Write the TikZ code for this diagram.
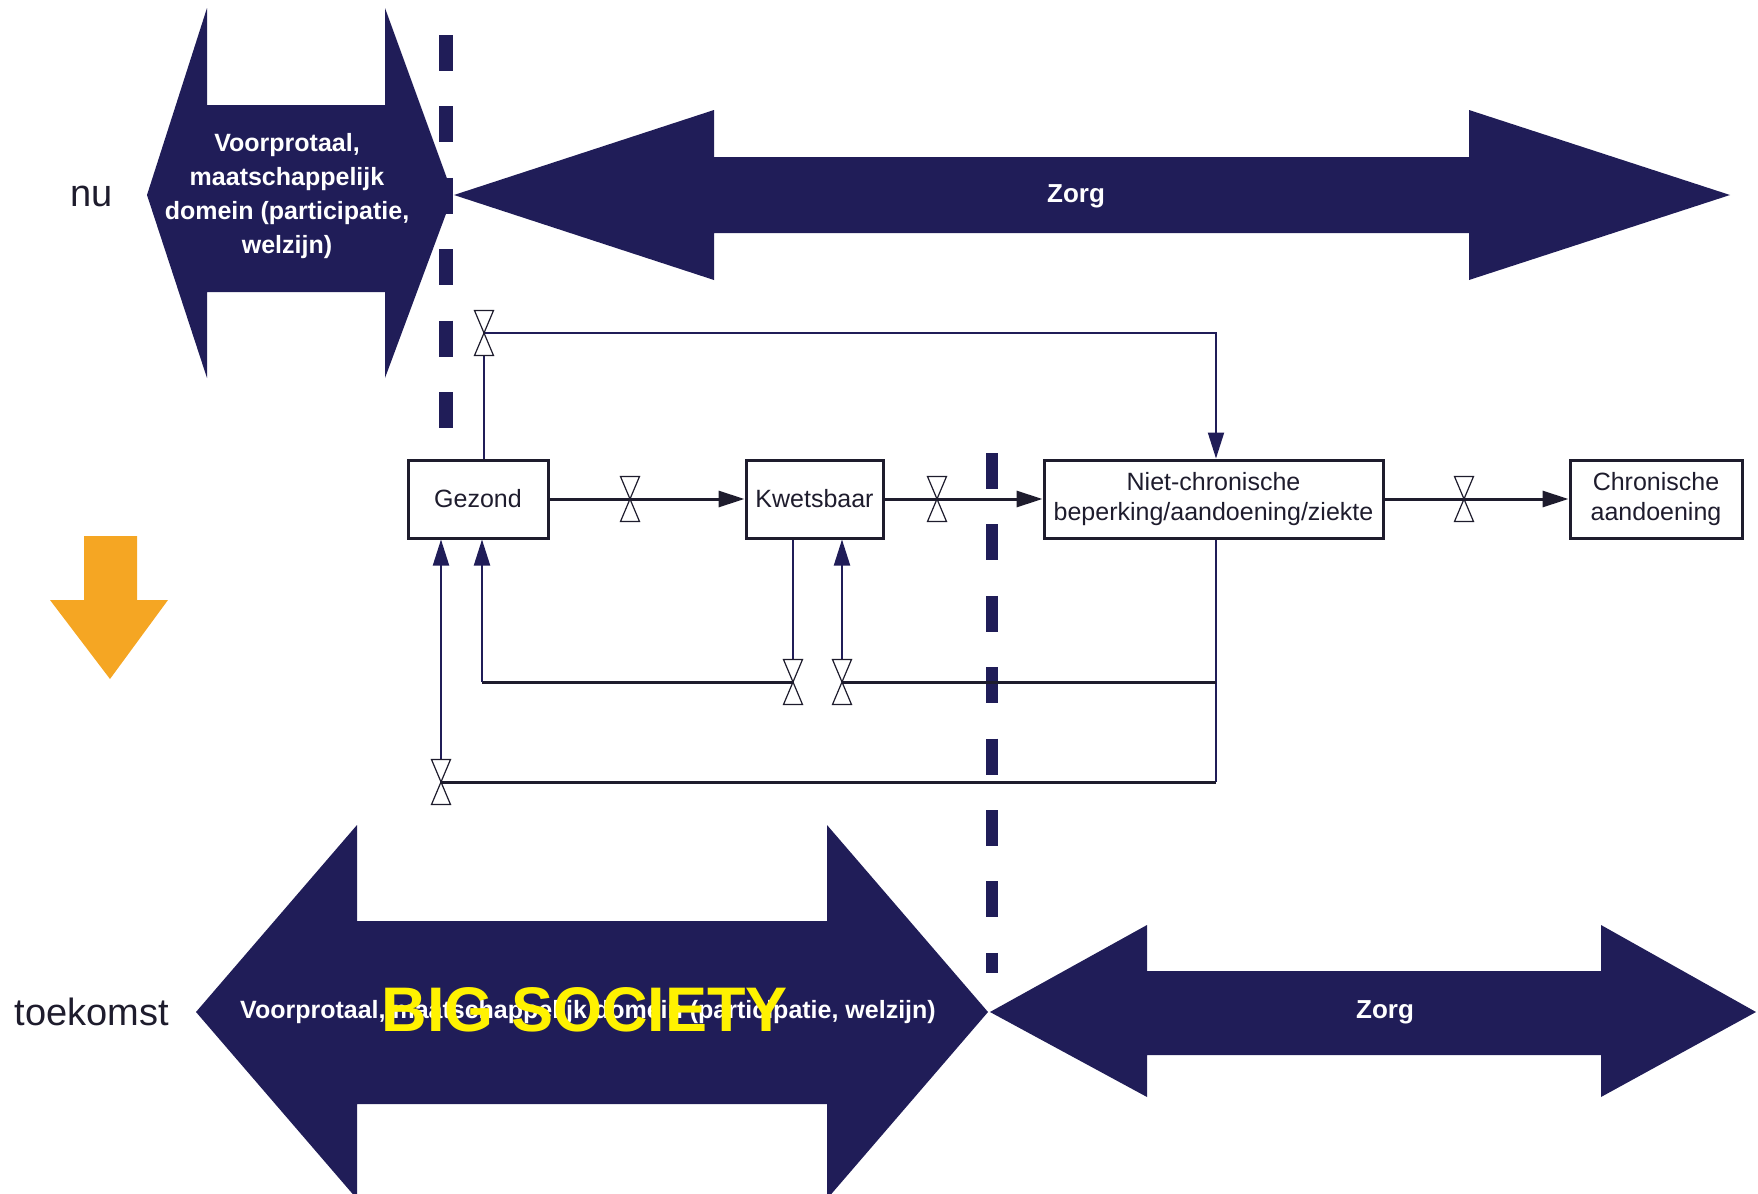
\documentclass[tikz,border=0pt]{standalone}
\usepackage{fontspec}
\setmainfont{Liberation Sans}
\usepackage{tikz}
\usetikzlibrary{arrows.meta,positioning}
\definecolor{navy}{RGB}{32,29,88}
\definecolor{oranje}{RGB}{245,166,35}
\definecolor{inkt}{RGB}{30,28,45}
\tikzset{
  %Standaard pijlpunt
  >={Triangle[length=13pt,width=8pt]},
  %Stijl voor de vakken
  vak/.style={
    rectangle,
    draw=inkt, line width=1.5pt,
    minimum width=#1,
    minimum height=39pt,
    inner sep=0pt,
    align=center,
    text=inkt,
    font=\fontsize{12.5}{15}\selectfont},
  vak/.default=70pt,
  % Stijl voor de lijnen
  hoofd/.style={
    ->,
    draw=inkt,
    line width=1.5pt},
  terug/.style={draw=navy, line width=1pt},
  dwars/.style={draw=inkt, line width=1.5pt},
  grens/.style={draw=navy, dash pattern=on 18pt off 17.7pt},
  blok/.style={fill=navy},
  wit/.style={text=white, align=center,
    font=\bfseries\fontsize{12.5}{17}\selectfont},
  tijd/.style={text=inkt, font=\fontsize{19}{22}\selectfont},
  % Klep (zandloper)
  klep/.pic={
    \draw[inkt, fill=white, line width=0.6pt]
      (-4.75pt,-11.25pt) -- (4.75pt,-11.25pt) -- (-4.75pt,11.25pt) -- (4.75pt,11.25pt) -- cycle;}
}

\begin{document}
\begin{tikzpicture}[x=0.5pt,y=-0.5pt]
  \useasboundingbox (0,0) rectangle (1758,1194);

  % pijlen bovenaan (nu)
  \fill[blok] (147,195) -- (207,8) -- (207,105) -- (385,105) -- (385,8) -- (453,195)
    -- (385,378) -- (385,292) -- (207,292) -- (207,378) -- cycle;
  \fill[blok] (454,195) -- (714,110) -- (714,157) -- (1469,157) -- (1469,110) -- (1730,195)
    -- (1469,280) -- (1469,233) -- (714,233) -- (714,280) -- cycle;
  % pijlen onderaan (toekomst)
  \fill[blok] (196,1012) -- (357,825) -- (357,921) -- (827,921) -- (827,825) -- (988,1012)
    -- (827,1199) -- (827,1104) -- (357,1104) -- (357,1199) -- cycle;
  \fill[blok] (990,1012) -- (1147,925) -- (1147,971) -- (1601,971) -- (1601,925) -- (1756,1012)
    -- (1601,1097) -- (1601,1055) -- (1147,1055) -- (1147,1097) -- cycle;
  % oranje pijl
  \fill[oranje] (84,536) -- (137,536) -- (137,600) -- (168,600) -- (110,679) -- (50,600)
    -- (84,600) -- cycle;

  % scheidingslijnen
  \draw[grens, line width=7pt] (446,35) -- (446,428);
  \draw[grens, line width=6pt] (992,453) -- (992,973);

  \node[tijd] (nu) at (92,196) {nu};
  \node[tijd] (toekomst) at (92,1012) {toekomst};
  \node[wit] (voorportaal) at (287,196) {Voorprotaal,\\maatschappelijk\\domein (participatie,\\welzijn)};
  \node[wit, font=\bfseries\fontsize{13}{15}\selectfont] (zorg) at (1076,196) {Zorg};
  \node[wit] (voorportaalnieuw) at (588,1012) {Voorprotaal, maatschappelijk domein (participatie, welzijn)};
  \node[text=yellow, font=\bfseries\fontsize{31.5}{34}\selectfont] (bigsociety) at (585,1010) {BIG SOCIETY};
  \node[wit, font=\bfseries\fontsize{13}{15}\selectfont] (zorgnieuw) at (1385,1012) {Zorg};

  % vakken
  \node[vak] (gezond) at (478,499) {Gezond};
  \node[vak=68.5pt, right=97.5pt of gezond] (kwetsbaar) {Kwetsbaar};
  \node[vak=169.5pt, right=79pt of kwetsbaar] (niet) {Niet-chronische\\beperking/aandoening/ziekte};
  \node[vak=86pt, right=92pt of niet] (chronisch) {Chronische\\aandoening};

  \coordinate (hoek) at (484,333);
  \coordinate (b1) at (441,782);
  \coordinate (b2) at (1216,782);
  \coordinate (m1) at (482,682);
  \coordinate (m2) at (793,682);
  \coordinate (m3) at (842,682);

  \draw[hoofd] (gezond) -- (kwetsbaar);
  \draw[hoofd] (kwetsbaar) -- (niet);
  \draw[hoofd] (niet) -- (chronisch);
  \draw[terug, ->] (gezond.north -| hoek) -- (hoek) -| (b2 |- niet.north);
  \draw[terug] (b2 |- niet.south) -- (b2);
  \draw[dwars] (b2) -- (b1);
  \draw[terug, ->] (b1) -- (b1 |- gezond.south);
  \draw[dwars] (b2 |- m3) -- (m3);
  \draw[terug, ->] (m3) -- (m3 |- kwetsbaar.south);
  \draw[terug] (m2 |- kwetsbaar.south) -- (m2);
  \draw[dwars] (m2) -- (m1);
  \draw[terug, ->] (m1) -- (m1 |- gezond.south);

  % kleppen
  \pic at (630,499) {klep};
  \pic at (937,499) {klep};
  \pic at (1464,499) {klep};
  \pic at (hoek) {klep};
  \pic at (b1) {klep};
  \pic at (m2) {klep};
  \pic at (m3) {klep};
\end{tikzpicture}
\end{document}
